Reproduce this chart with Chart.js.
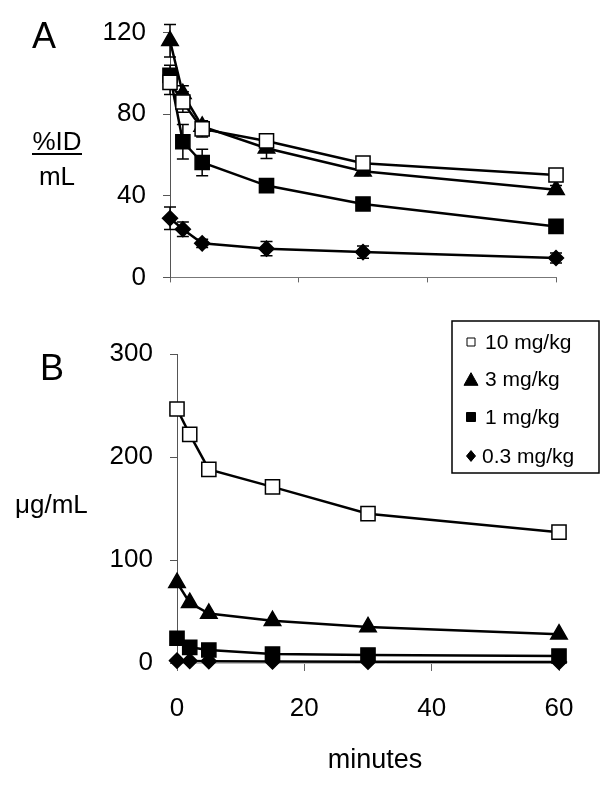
<!DOCTYPE html>
<html><head><meta charset="utf-8">
<script src="https://cdn.jsdelivr.net/npm/chart.js@4.4.1/dist/chart.umd.min.js"></script>
<style>
html,body{margin:0;padding:0;background:#fff;}
body{width:616px;height:785px;position:relative;overflow:hidden;font-family:"Liberation Sans",Arial,sans-serif;color:#000;}
.lbl{position:absolute;line-height:1;white-space:nowrap;color:#000;}
#wa{position:absolute;left:0;top:0;width:616px;height:310px;}
#wb{position:absolute;left:0;top:310px;width:616px;height:475px;}
</style></head><body>
<div id="wa"><canvas id="ca" width="616" height="310"></canvas></div>
<div id="wb"><canvas id="cb" width="616" height="475"></canvas></div>
<div class="lbl" style="left:32px;top:18px;font-size:36px">A</div>
<div class="lbl" style="left:27px;top:128px;width:60px;text-align:center;font-size:26px">%ID</div>
<div style="position:absolute;left:32px;top:153px;width:50px;height:2px;background:#000"></div>
<div class="lbl" style="left:27px;top:163px;width:60px;text-align:center;font-size:26px">mL</div>
<div class="lbl" style="left:40px;top:350px;font-size:36px">B</div>
<div class="lbl" style="left:15px;top:491px;font-size:26px">μg/mL</div>
<div class="lbl" style="left:315px;top:746px;width:120px;text-align:center;font-size:27px">minutes</div>
<script>
// ---- data ----
const minutes = [0, 2, 5, 15, 30, 60];
const doseLabels = ['10 mg/kg', '3 mg/kg', '1 mg/kg', '0.3 mg/kg'];
const xTicks = [0, 20, 40, 60];
const yTicksA = [0, 40, 80, 120];
const yTicksB = [0, 100, 200, 300];

// Panel A: %ID/mL
const pctID_10mg  = [95.6, 86, 72.8, 66.9, 56, 50.2];
const pctID_3mg   = [116, 90, 74, 63.3, 52, 43];
const pctID_1mg   = [99, 66.5, 56.3, 45, 36, 25];
const pctID_03mg  = [29, 23.6, 16.7, 14.1, 12.4, 9.5];
// Panel A error (+/-)
const errID_10mg  = [6, 5, 4, 2, 1, 1];
const errID_3mg   = [8, 4, 2, 5, 2, 2];
const errID_1mg   = [5, 8.5, 6.5, 1.5, 3, 1];
const errID_03mg  = [5.5, 3.5, 2, 3.5, 3, 2.5];

// Panel B: ug/mL
const ug_10mg = [246.6, 222, 188, 171, 145, 127];
const ug_3mg  = [78, 58.5, 48, 41, 35, 28];
const ug_1mg  = [24, 15.2, 12.6, 8.7, 7.8, 6.8];
const ug_03mg = [2.3, 2, 1.8, 1.5, 1.3, 1];

// ---- styles ----
const FONT = '"Liberation Sans", Arial, sans-serif';
const styles = [
  {pointStyle: 'rect', radius: 10, fill: '#fff'},
  {pointStyle: 'triangle', radius: 9.5, fill: '#000'},
  {pointStyle: 'rect', radius: 10, fill: '#000'},
  {pointStyle: 'rectRot', radius: 7.5, fill: '#000'}
];

function pts(vals) { return minutes.map((m, i) => ({x: m, y: vals[i]})); }
function makeDatasets(series) {
  return series.map((vals, i) => ({
    label: doseLabels[i],
    data: pts(vals),
    borderColor: '#000',
    borderWidth: 2.5,
    backgroundColor: styles[i].fill,
    pointStyle: styles[i].pointStyle,
    pointRadius: styles[i].radius,
    pointBackgroundColor: styles[i].fill,
    pointBorderColor: '#000',
    pointBorderWidth: 1.5,
    tension: 0,
    clip: false,
    showLine: true
  }));
}

const errorBars = {
  id: 'errorBars',
  beforeDatasetsDraw(chart, args, opts) {
    const errs = opts.errors; if (!errs) return;
    const ctx = chart.ctx, x = chart.scales.x, y = chart.scales.y;
    ctx.save(); ctx.strokeStyle = '#000'; ctx.lineWidth = 1.5;
    chart.data.datasets.forEach((ds, i) => {
      const e = errs[i]; if (!e) return;
      ds.data.forEach((p, j) => {
        const px = x.getPixelForValue(p.x);
        const t = y.getPixelForValue(p.y + e[j]);
        const b = y.getPixelForValue(p.y - e[j]);
        ctx.beginPath();
        ctx.moveTo(px, t); ctx.lineTo(px, b);
        ctx.moveTo(px - 6, t); ctx.lineTo(px + 6, t);
        ctx.moveTo(px - 6, b); ctx.lineTo(px + 6, b);
        ctx.stroke();
      });
    });
    ctx.restore();
  }
};

function drawMarker(ctx, style, cx, cy, s, fill) {
  ctx.beginPath();
  if (style === 'rect') { ctx.rect(cx - s / 2, cy - s / 2, s, s); }
  else if (style === 'triangle') { const h = s * 0.9; ctx.moveTo(cx, cy - h / 2); ctx.lineTo(cx + s / 2, cy + h / 2); ctx.lineTo(cx - s / 2, cy + h / 2); ctx.closePath(); }
  else { ctx.moveTo(cx, cy - s * 0.6); ctx.lineTo(cx + s / 2, cy); ctx.lineTo(cx, cy + s * 0.6); ctx.lineTo(cx - s / 2, cy); ctx.closePath(); }
  ctx.fillStyle = fill; ctx.fill();
  ctx.strokeStyle = '#000'; ctx.lineWidth = 1; ctx.stroke();
}

const boxLegend = {
  id: 'boxLegend',
  afterDraw(chart) {
    const ctx = chart.ctx;
    ctx.save();
    ctx.fillStyle = '#fff';
    ctx.fillRect(452, 11, 147, 152);
    ctx.strokeStyle = '#000'; ctx.lineWidth = 1.5;
    ctx.strokeRect(452, 11, 147, 152);
    const rows = [32, 69, 107, 146];
    const sizes = [8, 14, 9, 9];
    chart.data.datasets.forEach((ds, i) => {
      drawMarker(ctx, styles[i].pointStyle, 471, rows[i], sizes[i], styles[i].fill);
      ctx.fillStyle = '#000';
      ctx.font = '21px ' + FONT;
      ctx.textBaseline = 'middle';
      ctx.textAlign = 'left';
      ctx.fillText(ds.label, i === 3 ? 482 : 485, rows[i] + 1);
    });
    ctx.restore();
  }
};

function makeOptions(o) {
  return {
    responsive: false,
    animation: false,
    events: [],
    devicePixelRatio: 1,
    layout: {padding: {left: 0, right: o.padRight, top: o.padTop, bottom: 0}},
    plugins: {legend: {display: false}, tooltip: {enabled: false}, errorBars: {errors: o.errors}},
    scales: {
      x: {
        type: 'linear', min: 0, max: 60,
        afterBuildTicks: s => { s.ticks = xTicks.map(v => ({value: v})); },
        afterFit: s => { s.height = o.xHeight; },
        border: {display: true, color: o.xBorder, width: 1},
        grid: {drawOnChartArea: false, drawTicks: true, tickLength: o.xTickLen, color: '#666'},
        ticks: {display: o.showXLabels, padding: 22, color: '#000', maxRotation: 0, font: {family: FONT, size: 26}}
      },
      y: {
        type: 'linear', min: 0, max: o.yMax,
        afterBuildTicks: s => { s.ticks = o.yTicks.map(v => ({value: v})); },
        afterFit: s => { s.width = o.yWidth; },
        border: {display: true, color: '#555', width: 1},
        grid: {drawOnChartArea: false, drawTicks: true, tickLength: 7, color: '#555'},
        ticks: {padding: 17, color: '#000', font: {family: FONT, size: 26}}
      }
    }
  };
}

new Chart(document.getElementById('ca'), {
  type: 'line',
  data: {datasets: makeDatasets([pctID_10mg, pctID_3mg, pctID_1mg, pctID_03mg])},
  options: makeOptions({padRight: 60, padTop: 25, xHeight: 10, xTickLen: 5, xBorder: '#777', showXLabels: false,
    yMax: 120, yTicks: yTicksA, yWidth: 170,
    errors: [errID_10mg, errID_3mg, errID_1mg, errID_03mg]}),
  plugins: [errorBars]
});

new Chart(document.getElementById('cb'), {
  type: 'line',
  data: {datasets: makeDatasets([ug_10mg, ug_3mg, ug_1mg, ug_03mg])},
  options: makeOptions({padRight: 57, padTop: 44, xHeight: 122, xTickLen: 8, xBorder: '#bbb', showXLabels: true,
    yMax: 300, yTicks: yTicksB, yWidth: 177, errors: null}),
  plugins: [boxLegend]
});
</script>
</body></html>
